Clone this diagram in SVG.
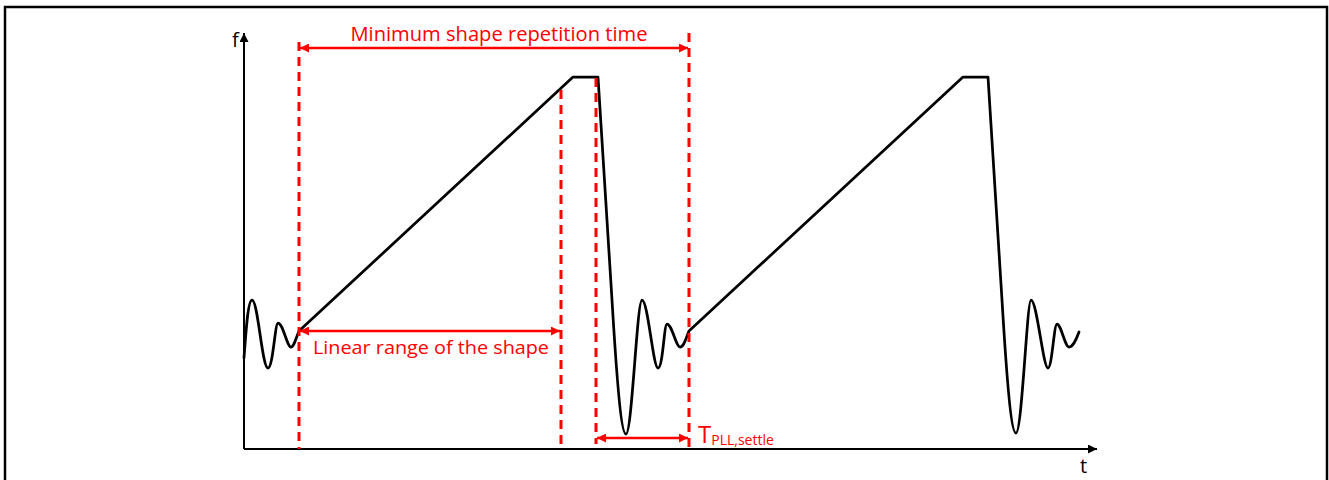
<svg xmlns="http://www.w3.org/2000/svg" width="1329" height="480" viewBox="0 0 1329 480">
<defs>
<style>
.frame{fill:none;stroke:#000;stroke-width:2.5}
.axis{fill:none;stroke:#000;stroke-width:2}
.wave{fill:none;stroke:#000;stroke-width:2.75;stroke-linejoin:round;stroke-linecap:round}
.dash{fill:none;stroke:#ff0000;stroke-width:3;stroke-dasharray:9 6}
.dim{fill:none;stroke:#ff0000;stroke-width:2.5}
.lbl{font-family:"Open Sans","Liberation Sans",sans-serif;fill:#ff0000}
.ax{font-family:"Open Sans","Liberation Sans",sans-serif;fill:#000;font-size:20px}
</style>
<marker id="ak" viewBox="0 0 10 10" refX="10" refY="5" markerWidth="9" markerHeight="9" markerUnits="userSpaceOnUse" orient="auto">
<path d="M0,0 L10,5 L0,10 Z" fill="#000"/>
</marker>
<marker id="ar" viewBox="0 0 10 10" refX="10" refY="5" markerWidth="10" markerHeight="9" markerUnits="userSpaceOnUse" orient="auto-start-reverse">
<path d="M0,0 L10,5 L0,10 Z" fill="#ff0000"/>
</marker>
</defs>
<rect class="frame" x="5" y="7" width="1322" height="480"/>
<g id="axes">
<line class="axis" x1="244" y1="449" x2="244" y2="33" marker-end="url(#ak)"/>
<line class="axis" x1="244" y1="449" x2="1097" y2="449" marker-end="url(#ak)"/>
<text class="ax" x="232" y="47">f</text>
<text class="ax" x="1080" y="473">t</text>
</g>
<g id="waveform">
<path class="wave" d="M244,358 C246,330 248,300 252,300 C258,300 262,368 268,368 C273,368 275,323 278,323 C283,323 287,347 291,347 C294,347 296,338 299,331 L573,77 L598,77 L612,300 C618,400 622,434 626,434 C632,434 637,300 642,300 C648,300 653,368 658,368 C663,368 664,324 667,324 C672,324 676,347 680,347 C684,347 686,338 689,331 L963,77 L988,77 L1002,300 C1008,400 1012,433 1016,433 C1022,433 1027,300 1031,300 C1037,300 1043,368 1048,368 C1052,368 1054,324 1057,324 C1061,324 1065,347 1069,347 C1073,347 1076,340 1079,332"/>
</g>
<g id="markers">
<line class="dash" x1="299" y1="42" x2="299" y2="449"/>
<line class="dash" x1="561" y1="90" x2="561" y2="444"/>
<line class="dash" x1="596" y1="78" x2="596" y2="444"/>
<line class="dash" x1="689" y1="33" x2="689" y2="450"/>
</g>
<g id="repetition">
<line class="dim" x1="300" y1="48" x2="688" y2="48" marker-start="url(#ar)" marker-end="url(#ar)"/>
<text class="lbl" x="499" y="41" text-anchor="middle" font-size="20" textLength="297" lengthAdjust="spacingAndGlyphs">Minimum shape repetition time</text>
</g>
<g id="linear">
<line class="dim" x1="300" y1="331" x2="560" y2="331" marker-start="url(#ar)" marker-end="url(#ar)"/>
<text class="lbl" x="313" y="354" font-size="19" textLength="236" lengthAdjust="spacingAndGlyphs">Linear range of the shape</text>
</g>
<g id="settle">
<line class="dim" x1="597" y1="438" x2="688" y2="438" marker-start="url(#ar)" marker-end="url(#ar)"/>
<text class="lbl" x="698" y="443" font-size="24">T<tspan font-size="14" dy="2">PLL,settle</tspan></text>
</g>
</svg>
